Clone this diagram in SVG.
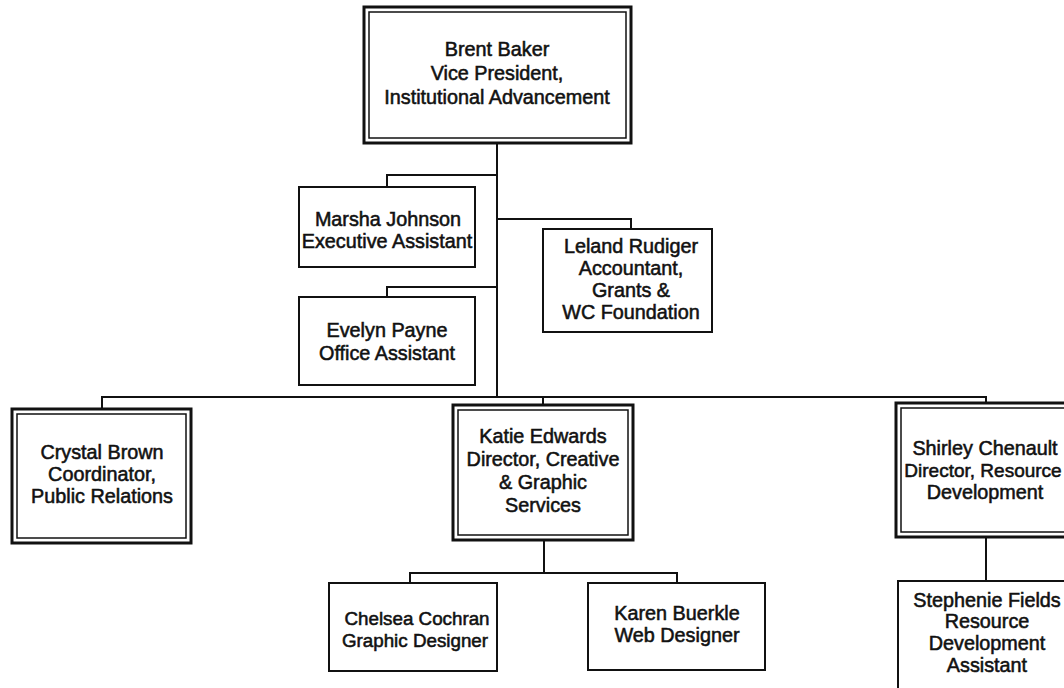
<svg xmlns="http://www.w3.org/2000/svg" width="1064" height="688" viewBox="0 0 1064 688">
<style>
text{font-family:"Liberation Sans",Arial,sans-serif;font-size:19.8px;fill:#111;stroke:#111;stroke-width:0.55px;text-anchor:middle}
.box{fill:#fff;stroke:#111;stroke-width:2}
.outer{fill:#fff;stroke:#111;stroke-width:3}
.inner{fill:none;stroke:#111;stroke-width:1.5}
.conn{fill:none;stroke:#111;stroke-width:2}
.sm{font-size:18.8px}
</style>
<rect width="1064" height="688" fill="#fff"/>
<g id="connectors">
<path class="conn" d="M497,143 V397"/>
<path class="conn" d="M497,175 H387 V187"/>
<path class="conn" d="M497,287 H387 V297"/>
<path class="conn" d="M497,219 H631 V229"/>
<path class="conn" d="M102,409 V397 H986 V403"/>
<path class="conn" d="M543,397 V405"/>
<path class="conn" d="M544,540 V573"/>
<path class="conn" d="M410,583 V573 H677 V583"/>
<path class="conn" d="M986,537 V581"/>
</g>
<g id="brent-baker">
<rect class="outer" x="364" y="7" width="267" height="136"/>
<rect class="inner" x="369" y="12" width="257" height="126"/>
<text x="497" y="56">Brent Baker</text>
<text x="497" y="80">Vice President,</text>
<text x="497" y="104">Institutional Advancement</text>
</g>
<g id="marsha-johnson">
<rect class="box" x="299" y="187" width="176" height="80"/>
<text x="388" y="226">Marsha Johnson</text>
<text x="387" y="248">Executive Assistant</text>
</g>
<g id="evelyn-payne">
<rect class="box" x="299" y="297" width="176" height="88"/>
<text x="387" y="337">Evelyn Payne</text>
<text x="387" y="360">Office Assistant</text>
</g>
<g id="leland-rudiger">
<rect class="box" x="543" y="229" width="169" height="103"/>
<text x="631" y="253">Leland Rudiger</text>
<text x="631" y="275">Accountant,</text>
<text x="631" y="297">Grants &amp;</text>
<text x="631" y="319">WC Foundation</text>
</g>
<g id="crystal-brown">
<rect class="outer" x="12" y="409" width="179" height="134"/>
<rect class="inner" x="17" y="414" width="169" height="124"/>
<text x="102" y="459">Crystal Brown</text>
<text x="102" y="481">Coordinator,</text>
<text x="102" y="503">Public Relations</text>
</g>
<g id="katie-edwards">
<rect class="outer" x="453" y="405" width="180" height="135"/>
<rect class="inner" x="458" y="410" width="170" height="125"/>
<text x="543" y="443">Katie Edwards</text>
<text x="543" y="466">Director, Creative</text>
<text x="543" y="489">&amp; Graphic</text>
<text x="543" y="512">Services</text>
</g>
<g id="shirley-chenault">
<rect class="outer" x="896" y="403" width="190" height="134"/>
<rect class="inner" x="901" y="408" width="180" height="124"/>
<text x="985" y="455">Shirley Chenault</text>
<text x="983" y="477" style="font-size:19px">Director, Resource</text>
<text x="985" y="499">Development</text>
</g>
<g id="chelsea-cochran">
<rect class="box" x="329" y="583" width="168" height="88"/>
<text class="sm" x="417" y="625">Chelsea Cochran</text>
<text class="sm" x="415" y="647">Graphic Designer</text>
</g>
<g id="karen-buerkle">
<rect class="box" x="588" y="583" width="177" height="87"/>
<text x="677" y="620">Karen Buerkle</text>
<text x="677" y="642">Web Designer</text>
</g>
<g id="stephenie-fields">
<rect class="box" x="898" y="581" width="190" height="120"/>
<text x="987" y="607">Stephenie Fields</text>
<text x="987" y="628">Resource</text>
<text x="987" y="650">Development</text>
<text x="987" y="672">Assistant</text>
</g>
</svg>
